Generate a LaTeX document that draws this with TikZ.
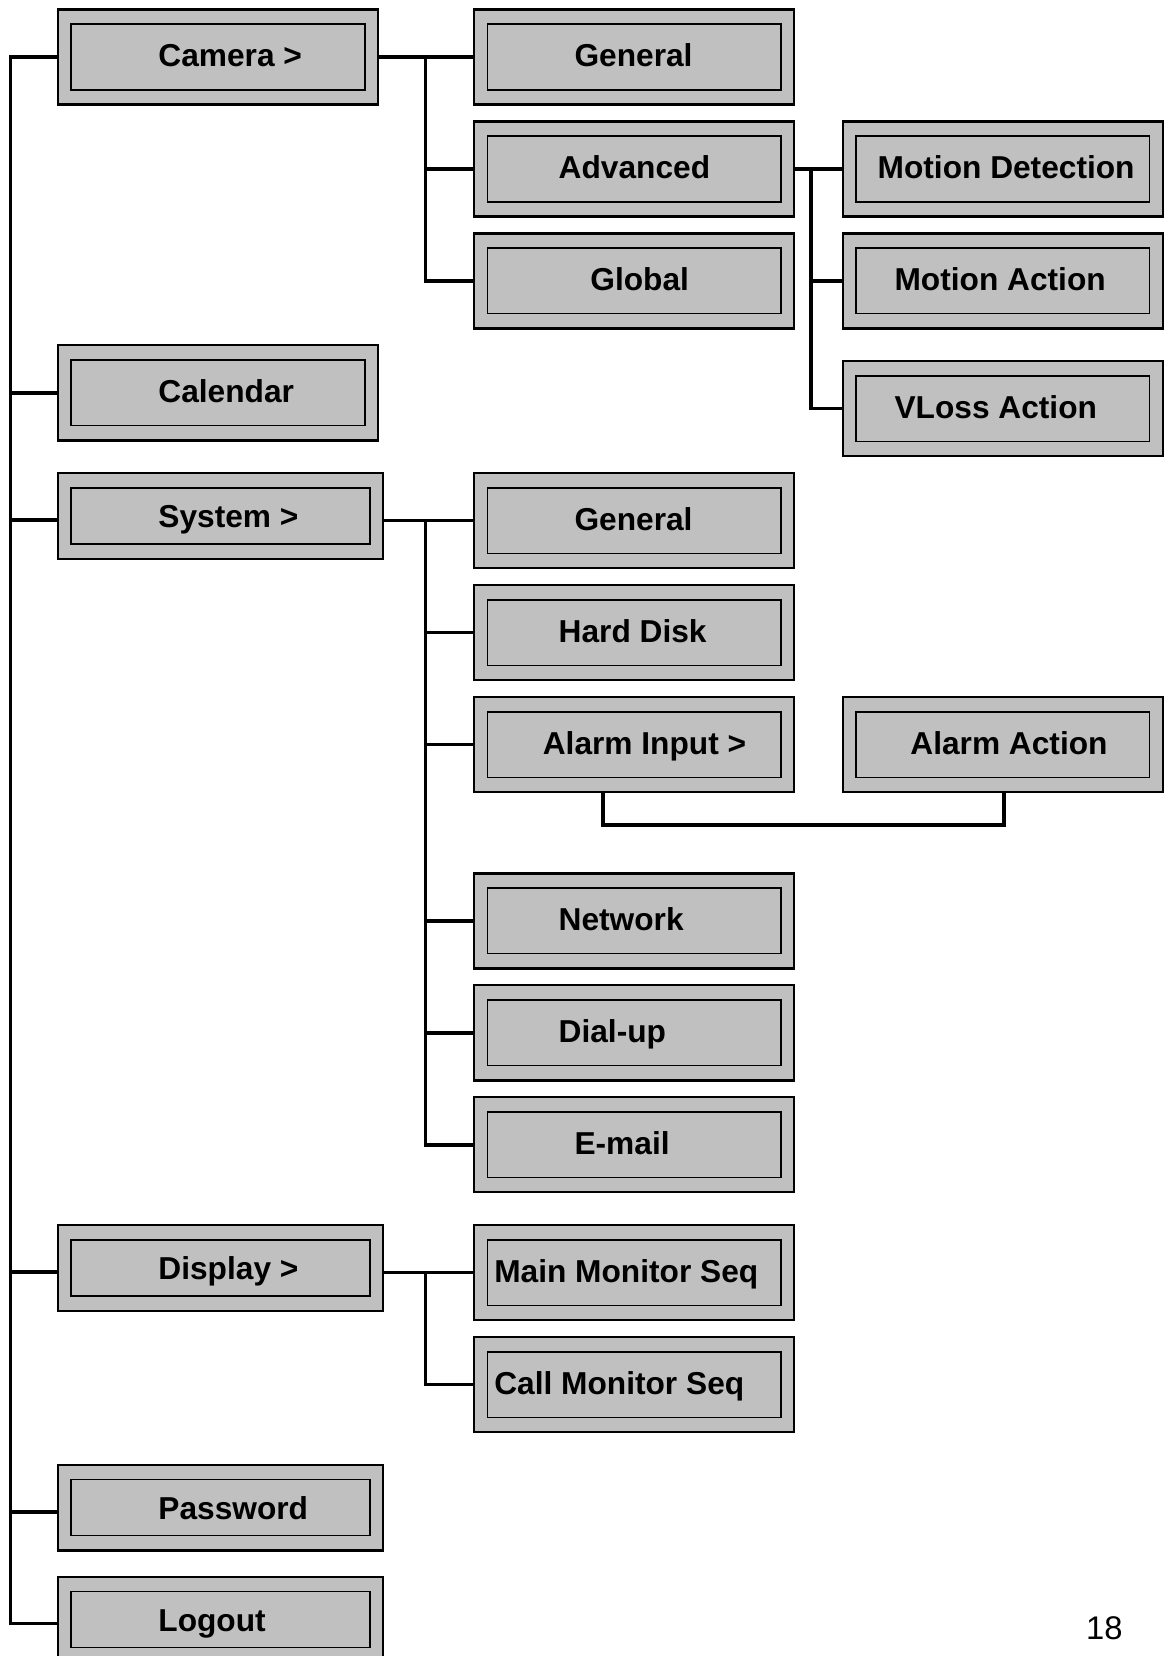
\documentclass[tikz,border=0pt]{standalone}
\usepackage{fontspec}
\setmainfont{Liberation Sans}
\usetikzlibrary{calc}
\definecolor{boxgray}{HTML}{C0C0C0}
\tikzset{
  outerbox/.style={draw=black, line width=2.1pt, fill=boxgray, inner sep=0pt, outer sep=0pt},
  innerbox/.style={draw=black, line width=1.5pt, fill=boxgray, inner sep=0pt, outer sep=0pt},
  lbl/.style={inner sep=0pt, outer sep=0pt, anchor=base west, font=\fontsize{30}{30}\selectfont\bfseries},
  conn/.style={draw=black, line width=3.2pt}
}
% name, cx, cy, w, h, textx, text, baseline offset
\newcommand\menuitem[8]{%
  \node[outerbox, minimum width=#4pt, minimum height=#5pt] (#1) at (#2,#3) {};
  \node[innerbox, minimum width=#4pt-25pt, minimum height=#5pt-28pt] (#1-in) at (#1.center) {};
  \node[lbl] (#1-t) at (#6,#3+#8) {#7};
}
\begin{document}
\begin{tikzpicture}[x=1pt,y=-1pt]
\useasboundingbox (0,0) rectangle (1105,1568);
\clip (0,0) rectangle (1105,1568);
% left column
\menuitem{cam}{206.5}{54}{303}{90}{150}{Camera >}{9}
\menuitem{cal}{206.5}{372}{303}{90}{150}{Calendar}{9}
\menuitem{sys}{209}{488.5}{308}{81}{150}{System >}{11}
\menuitem{disp}{209}{1200.5}{308}{81}{150}{Display >}{11}
\menuitem{pwd}{209}{1427.5}{308}{81}{150}{Password}{11}
\menuitem{lo}{209}{1533.5}{308}{81}{150}{Logout}{11}
% second column
\menuitem{gen1}{600.5}{54}{303}{90}{544}{General}{9}
\menuitem{adv}{600.5}{160}{303}{90}{529}{Advanced}{9}
\menuitem{glob}{600.5}{266}{303}{90}{559}{Global}{9}
\menuitem{gen2}{600.5}{493}{303}{90}{544}{General}{9}
\menuitem{hd}{600.5}{599}{303}{90}{529}{Hard Disk}{9}
\menuitem{ai}{600.5}{705}{303}{90}{514}{Alarm Input >}{9}
\menuitem{net}{600.5}{872}{303}{90}{529}{Network}{9}
\menuitem{dial}{600.5}{978}{303}{90}{529}{Dial-up}{9}
\menuitem{email}{600.5}{1084}{303}{90}{544}{E-mail}{9}
\menuitem{mm}{600.5}{1205}{303}{90}{468}{Main Monitor Seq}{9}
\menuitem{cm}{600.5}{1311}{303}{90}{468}{Call Monitor Seq}{9}
% third column
\menuitem{md}{949.5}{160}{303}{90}{831}{Motion Detection}{9}
\menuitem{ma}{949.5}{266}{303}{90}{847}{Motion Action}{9}
\menuitem{vl}{949.5}{387}{303}{90}{847}{VLoss Action}{9}
\menuitem{aa}{949.5}{705}{303}{90}{862}{Alarm Action}{9}
% page number
\node[inner sep=0pt, anchor=base, font=\fontsize{31}{31}\selectfont] (pg) at (1045.7,1552) {18};
% helper coordinates
\coordinate (trunk) at (10,0);
\coordinate (cb) at (403,0);
\coordinate (ab) at (768,0);
\coordinate (sys-w) at ($(sys.west)+(0,4)$);
\coordinate (sys-e) at ($(sys.east)+(0,4.5)$);
\coordinate (disp-w) at ($(disp.west)+(0,4)$);
\coordinate (disp-e) at ($(disp.east)+(0,4.5)$);
\coordinate (pwd-w) at ($(pwd.west)+(0,4)$);
\coordinate (lo-w) at ($(lo.west)+(0,4)$);
\coordinate (brl) at (571,781);
\coordinate (brr) at (950.5,781);
% main trunk
\draw[conn] (cam.west) -- (cam.west -| trunk) -- (lo-w -| trunk) -- (lo-w);
\draw[conn] (cal.west -| trunk) -- (cal.west);
\draw[conn] (sys-w -| trunk) -- (sys-w);
\draw[conn] (disp-w -| trunk) -- (disp-w);
\draw[conn] (pwd-w -| trunk) -- (pwd-w);
% camera branch
\draw[conn] (cam.east) -- (gen1.west);
\draw[conn] (cam.east -| cb) -- (glob.west -| cb) -- (glob.west);
\draw[conn] (adv.west -| cb) -- (adv.west);
% advanced branch
\draw[conn] (adv.east) -- (md.west);
\draw[conn] (adv.east -| ab) -- (vl.west -| ab) -- (vl.west);
\draw[conn] (ma.west -| ab) -- (ma.west);
% system branch
\draw[conn] (sys-e) -- (sys-e -| gen2.west);
\draw[conn] (sys-e -| cb) -- (email.west -| cb) -- (email.west);
\draw[conn] (hd.west -| cb) -- (hd.west);
\draw[conn] (ai.west -| cb) -- (ai.west);
\draw[conn] (net.west -| cb) -- (net.west);
\draw[conn] (dial.west -| cb) -- (dial.west);
% alarm bracket
\draw[conn] (brl |- ai.south) -- (brl) -- (brr) -- (brr |- aa.south);
% display branch
\draw[conn] (disp-e) -- (disp-e -| mm.west);
\draw[conn] (disp-e -| cb) -- (cm.west -| cb) -- (cm.west);
\end{tikzpicture}
\end{document}
